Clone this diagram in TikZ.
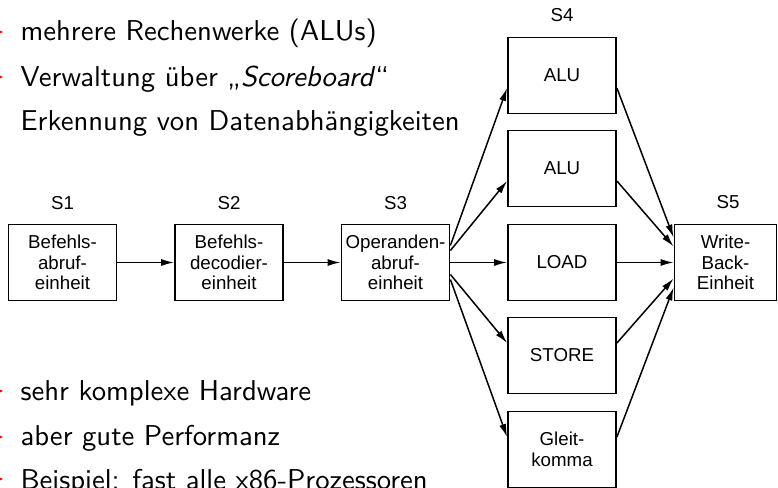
\documentclass[tikz,border=0pt]{standalone}
\usepackage{fontspec}
\newfontfamily\figfont{Liberation Sans}
\usetikzlibrary{arrows.meta,calc}
\begin{document}
\begin{tikzpicture}[x=1pt,y=-1pt,
  unit/.style={draw,line width=1.8pt,minimum width=108pt,minimum height=76pt,inner sep=0pt,align=center,font=\figfont\fontsize{18.7}{20.5}\selectfont},
  lbl/.style={font=\figfont\fontsize{18.7}{20.5}\selectfont,inner sep=0pt},
  conn/.style={line width=1.5pt,-{Latex[length=13pt,width=7pt]}},
  btext/.style={anchor=base west,inner sep=0pt,scale=2.87,font=\sffamily\fontsize{10}{12}\selectfont},
  bmark/.style={fill=red}
]
\useasboundingbox (0,0) rectangle (778,487);
% bullet text
\node[btext] (t1) at (20,41) {mehrere Rechenwerke (ALUs)};
\node[btext] (t2) at (20,86) {Verwaltung über „\textit{Scoreboard}“};
\node[btext] (t3) at (20,130) {Erkennung von Datenabhängigkeiten};
\node[btext] (t4) at (20,400) {sehr komplexe Hardware};
\node[btext] (t5) at (20,445) {aber gute Performanz};
\node[btext] (t6) at (20,489) {Beispiel: fast alle x86-Prozessoren};
\foreach \yy in {32,77,391,437,479}
  \fill[bmark] (-8,\yy-5) -- (3,\yy) -- (-8,\yy+5) -- cycle;
% units
\node[unit] (B1) at (62.5,262.5) {Befehls-\\abruf-\\einheit};
\node[unit] (B2) at (229,262.5) {Befehls-\\decodier-\\einheit};
\node[unit] (B3) at (395.5,262.5) {Operanden-\\abruf-\\einheit};
\node[unit] (A1) at (562,75.5) {ALU};
\node[unit] (A2) at (562,168.5) {ALU};
\node[unit] (LD) at (562,262.5) {LOAD};
\node[unit] (ST) at (562,355.5) {STORE};
\node[unit] (GK) at (562,449.5) {Gleit-\\komma};
\node[unit,minimum width=102pt] (WB) at (725.5,262.5) {Write-\\Back-\\Einheit};
% labels
\node[lbl] (s1) at (62.5,203) {S1};
\node[lbl] (s2) at (229,203) {S2};
\node[lbl] (s3) at (395.5,203) {S3};
\node[lbl] (s4) at (562,15) {S4};
\node[lbl] (s5) at (728,202) {S5};
% connectors
\draw[conn] (B1.east) -- (B2.west);
\draw[conn] (B2.east) -- (B3.west);
\draw[conn] ([yshift=17pt]B3.east) -- ([yshift=-12.5pt]A1.west);
\draw[conn] ([yshift=12pt]B3.east) -- ([yshift=-12.5pt]A2.west);
\draw[conn] (B3.east) -- (LD.west);
\draw[conn] ([yshift=-12pt]B3.east) -- ([yshift=12.5pt]ST.west);
\draw[conn] ([yshift=-17pt]B3.east) -- ([yshift=12.5pt]GK.west);
\draw[conn] ([yshift=-12.5pt]A1.east) -- ([yshift=25pt]WB.west);
\draw[conn] ([yshift=-12.5pt]A2.east) -- ([yshift=16pt]WB.west);
\draw[conn] (LD.east) -- (WB.west);
\draw[conn] ([yshift=12.5pt]ST.east) -- ([yshift=-16pt]WB.west);
\draw[conn] ([yshift=12.5pt]GK.east) -- ([yshift=-25pt]WB.west);
\end{tikzpicture}
\end{document}
